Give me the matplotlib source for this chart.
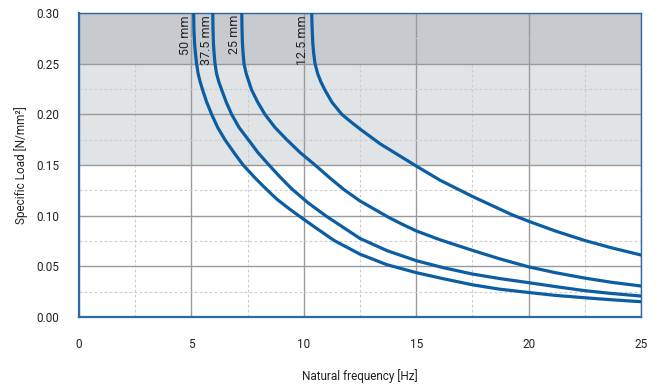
import matplotlib
matplotlib.use('Agg')
import matplotlib.pyplot as plt
from matplotlib.ticker import MultipleLocator

plt.rcParams['font.family'] = ['Roboto', 'DejaVu Sans']

# ── DATA ──────────────────────────────────────────────────────────────────────
freq_50 = [5.10, 5.11, 5.14, 5.18, 5.23, 5.30, 5.39, 5.50, 5.68, 5.90, 6.17,
           6.49, 6.90, 7.30, 7.82, 8.27, 8.79, 9.25, 9.77, 10.5, 11.35, 12.5,
           13.7, 15.0, 16.2, 17.5, 18.7, 20.0, 21.2, 22.5, 23.7, 25.0]
load_50 = [0.300, 0.285, 0.270, 0.260, 0.250, 0.240, 0.232, 0.224, 0.212,
           0.200, 0.187, 0.175, 0.162, 0.150, 0.1375, 0.1275, 0.1165, 0.1085,
           0.100, 0.0885, 0.0755, 0.0620, 0.0516, 0.0438, 0.0378, 0.0318,
           0.0275, 0.0242, 0.0213, 0.0190, 0.0170, 0.0151]

freq_375 = [5.95, 5.96, 5.98, 6.01, 6.05, 6.12, 6.22, 6.35, 6.55, 6.79, 7.12,
            7.53, 7.97, 8.45, 8.93, 9.46, 10.2, 11.0, 11.75, 12.5, 13.7,
            15.0, 16.2, 17.5, 18.7, 20.0, 21.2, 22.5, 23.7, 25.0]
load_375 = [0.300, 0.285, 0.270, 0.260, 0.250, 0.240, 0.232, 0.224, 0.212,
            0.200, 0.187, 0.175, 0.162, 0.150, 0.1385, 0.1265, 0.1125, 0.0995,
            0.0885, 0.0775, 0.0655, 0.0556, 0.0487, 0.0424, 0.0380, 0.0339,
            0.0300, 0.0260, 0.0232, 0.0207]

freq_25 = [7.24, 7.25, 7.27, 7.30, 7.34, 7.44, 7.56, 7.68, 7.95, 8.27, 8.72,
           9.24, 9.85, 10.5, 11.17, 11.8, 12.5, 13.8, 14.4, 15.0, 16.06, 17.5,
           18.7, 20.0, 21.2, 22.5, 23.7, 25.0]
load_25 = [0.300, 0.285, 0.270, 0.260, 0.250, 0.240, 0.232, 0.224, 0.212,
           0.200, 0.187, 0.175, 0.162, 0.150, 0.137, 0.1255, 0.1145, 0.0980,
           0.0913, 0.0850, 0.0762, 0.0658, 0.0575, 0.0495, 0.0437, 0.0384,
           0.0342, 0.0306]

freq_125 = [10.35, 10.37, 10.40, 10.44, 10.50, 10.62, 10.76, 10.94, 11.25,
            11.69, 12.1, 12.5, 13.39, 15.0, 16.06, 17.5, 19.25, 20.0, 21.2,
            22.5, 23.7, 25.0]
load_125 = [0.300, 0.285, 0.270, 0.260, 0.250, 0.240, 0.232, 0.224, 0.212,
            0.200, 0.1925, 0.1855, 0.171, 0.149, 0.135, 0.119, 0.101, 0.0945,
            0.0848, 0.0755, 0.0682, 0.0612]

curves = [
    ('50 mm', freq_50, load_50, 4.72),
    ('37.5 mm', freq_375, load_375, 5.69),
    ('25 mm', freq_25, load_25, 6.90),
    ('12.5 mm', freq_125, load_125, 9.92),
]

BLUE = '#0b5da4'
TEXT = '#222222'

# ── FIGURE ────────────────────────────────────────────────────────────────────
fig = plt.figure(figsize=(6.59, 3.85), dpi=100)
ax = fig.add_axes([0.1199, 0.1766, 0.8528, 0.7896])

# shaded load bands
ax.axhspan(0.25, 0.30, color='#c7cbcf', zorder=0, lw=0)
ax.axhspan(0.15, 0.25, color='#e1e4e7', zorder=0, lw=0)

for name, f, q, lx in curves:
    ax.plot(f, q, color=BLUE, lw=2.3, solid_joinstyle='round', zorder=3)
    ax.text(lx, 0.298, name, rotation=90, ha='center', va='top',
            fontsize=9, color=TEXT, zorder=4)

ax.set_xlim(0, 25)
ax.set_ylim(0, 0.30)
ax.xaxis.set_major_locator(MultipleLocator(5))
ax.xaxis.set_minor_locator(MultipleLocator(2.5))
ax.yaxis.set_major_locator(MultipleLocator(0.05))
ax.yaxis.set_minor_locator(MultipleLocator(0.025))
ax.set_yticklabels([f'{v:.2f}' for v in ax.get_yticks()])

ax.grid(which='major', color='#9a9a9a', lw=1.0, zorder=1)
ax.grid(which='minor', color='#cccccc', lw=0.8, ls=(0, (2.5, 2)), zorder=1)
ax.set_axisbelow(True)

ax.tick_params(which='both', length=0, labelsize=8.5, colors=TEXT)
ax.tick_params(axis='y', pad=14)
ax.tick_params(axis='x', pad=15)

for spine in ax.spines.values():
    spine.set_edgecolor('#2a6aa8')
    spine.set_linewidth(1.0)
ax.spines['left'].set_linewidth(1.6)
ax.spines['bottom'].set_linewidth(1.6)

ax.set_xlabel('Natural frequency [Hz]', fontsize=8.5, color=TEXT, labelpad=13)
ax.set_ylabel('Specific Load [N/mm²]', fontsize=8.5, color=TEXT, labelpad=6)

fig.savefig('out.png', dpi=100, facecolor='white')
